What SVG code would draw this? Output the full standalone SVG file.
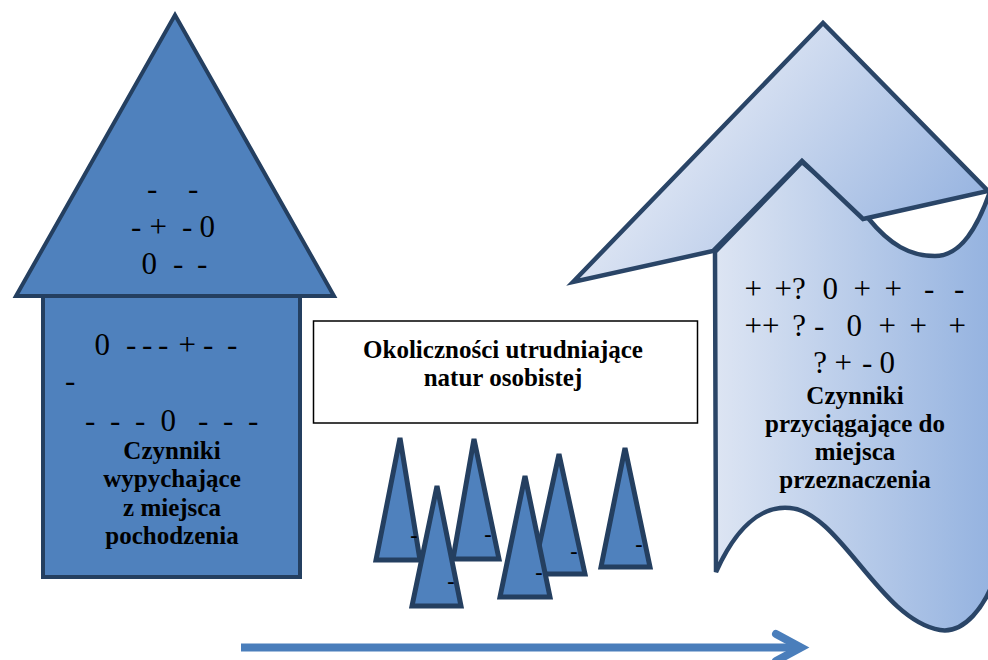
<svg xmlns="http://www.w3.org/2000/svg" width="988" height="660" viewBox="0 0 988 660">
<defs>
<style>
.blue{fill:#4f81bd;stroke:#243f60;stroke-width:4;stroke-linejoin:miter}
.tree{fill:#4f81bd;stroke:#243f60;stroke-width:5}
.pale{stroke:#2a4567;stroke-width:4.5;stroke-linejoin:miter}
.sym{font-family:"Liberation Serif","Times New Roman",serif;font-size:31px;fill:#000}
.lbl{font-family:"Liberation Serif","Times New Roman",serif;font-size:25px;font-weight:bold;fill:#000;text-anchor:middle}
.dash{font-family:"Liberation Serif","Times New Roman",serif;font-size:22px;font-weight:bold;fill:#000;text-anchor:middle}
</style>
<linearGradient id="gBody" gradientUnits="userSpaceOnUse" x1="715" y1="0" x2="990" y2="0">
<stop offset="0" stop-color="#dde5f3"/>
<stop offset="1" stop-color="#95b3e0"/>
</linearGradient>
<linearGradient id="gRoof" gradientUnits="userSpaceOnUse" x1="700" y1="60" x2="960" y2="260">
<stop offset="0" stop-color="#e3e9f5"/>
<stop offset="1" stop-color="#93b1df"/>
</linearGradient>
<marker id="chev" markerUnits="userSpaceOnUse" markerWidth="50" markerHeight="40" viewBox="0 0 50 40" refX="32" refY="20" orient="auto">
<path d="M11,6.5 L36,20 L11,33.5" fill="none" stroke="#4a7ebb" stroke-width="8" stroke-linecap="round" stroke-linejoin="miter"/>
</marker>
</defs>

<g id="push-house">
<rect class="blue" x="43" y="296" width="257" height="281"/>
<polygon class="blue" points="16,296 175,15 334,296"/>
<text class="sym" y="199"><tspan x="147">-</tspan> <tspan x="188">-</tspan></text>
<text class="sym" y="237"><tspan x="131">-</tspan> <tspan x="149.5">+</tspan> <tspan x="182">-</tspan> <tspan x="199.5">0</tspan></text>
<text class="sym" y="274"><tspan x="141.5">0</tspan> <tspan x="173">-</tspan> <tspan x="197">-</tspan></text>
<text class="sym" y="355"><tspan x="94.5">0</tspan> <tspan x="126">-</tspan> <tspan x="142">-</tspan> <tspan x="158">-</tspan> <tspan x="178.5">+</tspan> <tspan x="203">-</tspan> <tspan x="227">-</tspan></text>
<text class="sym" y="391"><tspan x="65">-</tspan></text>
<text class="sym" y="431"><tspan x="85">-</tspan> <tspan x="110">-</tspan> <tspan x="135">-</tspan> <tspan x="160.5">0</tspan> <tspan x="198">-</tspan> <tspan x="223">-</tspan> <tspan x="248">-</tspan></text>
<text class="lbl" x="172" y="459">Czynniki</text>
<text class="lbl" x="172" y="487">wypychające</text>
<text class="lbl" x="172" y="516">z miejsca</text>
<text class="lbl" x="172" y="544">pochodzenia</text>
</g>

<g id="obstacles-box">
<rect x="313.5" y="321" width="384" height="102" fill="#fff" stroke="#000" stroke-width="1.5"/>
<text class="lbl" x="503" y="358">Okoliczności utrudniające</text>
<text class="lbl" x="503" y="386">natur osobistej</text>
</g>

<g id="obstacles-trees">
<g id="tree1"><polygon class="tree" points="400,438 376,560 420,560"/><text class="dash" x="414" y="542">-</text></g>
<g id="tree3"><polygon class="tree" points="474,439 453,559 499,559"/><text class="dash" x="488" y="541">-</text></g>
<g id="tree2"><polygon class="tree" points="437,486 412,606 461,606"/><text class="dash" x="451" y="588">-</text></g>
<g id="tree5"><polygon class="tree" points="559,454 533,574 585,574"/><text class="dash" x="574" y="558">-</text></g>
<g id="tree4"><polygon class="tree" points="525,476 500,597 550,597"/><text class="dash" x="539" y="579">-</text></g>
<g id="tree6"><polygon class="tree" points="625,448 601,567 650,567"/><text class="dash" x="639" y="551">-</text></g>
</g>

<g id="pull-house">
<path class="pale" fill="url(#gBody)" d="M715,252 L802,162 L868,218 C890,245 910,256 935,256 C960,256 978,230 994,180 L994,580 C985,605 965,634 940,630 C880,620 840,512 790,508 C760,505 735,530 716,572 Z"/>
<path class="pale" fill="url(#gRoof)" d="M573,282 L823,23 L988,191 L863,219 L802,161 L713,251 Z"/>
<text class="sym" y="299"><tspan x="744.5">+</tspan> <tspan x="774.5">+?</tspan> <tspan x="822.5">0</tspan> <tspan x="853.5">+</tspan> <tspan x="884.5">+</tspan> <tspan x="924">-</tspan> <tspan x="954">-</tspan></text>
<text class="sym" y="336"><tspan x="744.5">++</tspan> <tspan x="792.3">?</tspan> <tspan x="814">-</tspan> <tspan x="846.5">0</tspan> <tspan x="878.5">+</tspan> <tspan x="909.5">+</tspan> <tspan x="948.5">+</tspan></text>
<text class="sym" y="373"><tspan x="813.3">?</tspan> <tspan x="834.5">+</tspan> <tspan x="862">-</tspan> <tspan x="879.5">0</tspan></text>
<text class="lbl" x="855" y="404">Czynniki</text>
<text class="lbl" x="855" y="432">przyciągające do</text>
<text class="lbl" x="855" y="460">miejsca</text>
<text class="lbl" x="855" y="488">przeznaczenia</text>
</g>

<g id="connectors">
<line x1="241" y1="647.5" x2="797" y2="647.5" stroke="#4a7ebb" stroke-width="8" marker-end="url(#chev)"/>
</g>
</svg>
